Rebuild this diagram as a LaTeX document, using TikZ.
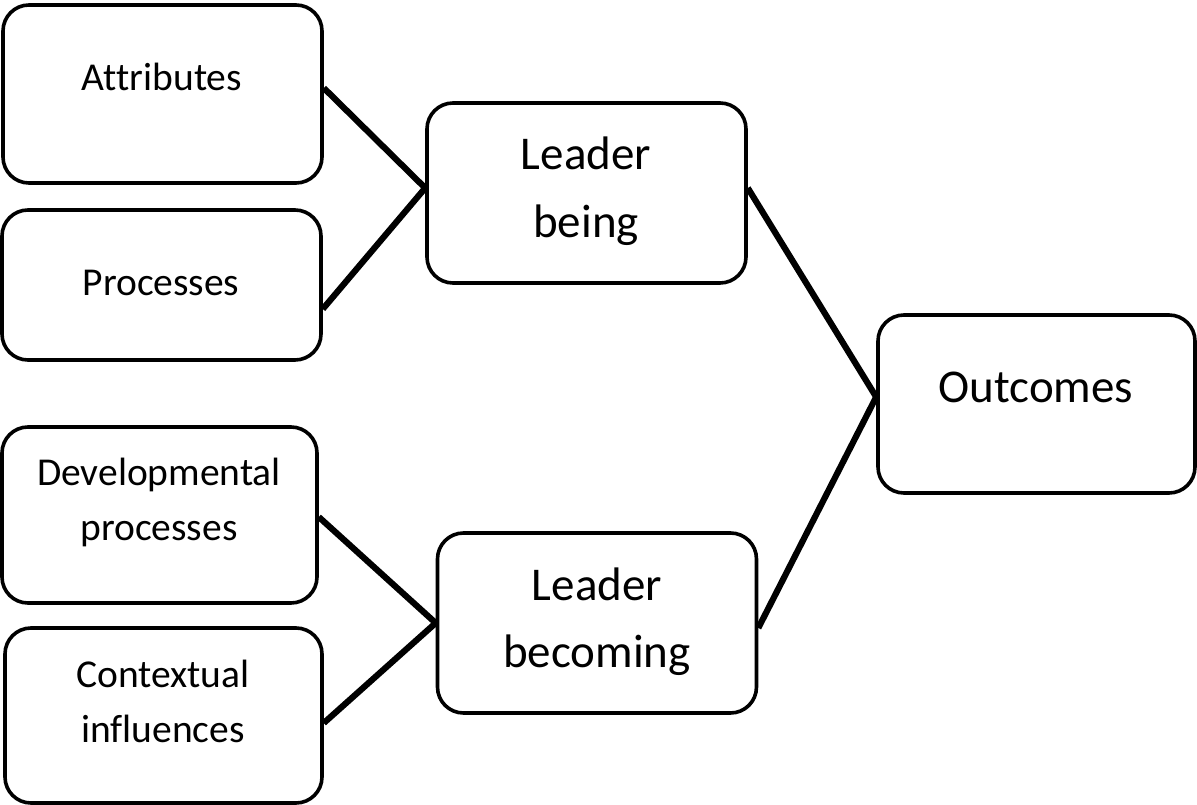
\documentclass[tikz,border=0pt]{standalone}
\usepackage{fontspec}
\setmainfont{Carlito}[Ligatures={NoCommon}]
\begin{document}
\begin{tikzpicture}[x=1pt,y=-1pt,
  box/.style={draw=black, line width=3.6pt, rounded corners=26pt, inner sep=0pt},
  small/.style={font=\fontsize{39.5}{55}\selectfont, align=center, anchor=base, inner sep=0pt},
  big/.style={font=\fontsize{47}{67}\selectfont, align=center, anchor=base, inner sep=0pt},
  link/.style={line width=6.2pt}]
\useasboundingbox (0,0) rectangle (1197,805);
% boxes
\node[box, minimum width=319pt, minimum height=178pt] (attr) at (162.5,94) {};
\node[box, minimum width=319pt, minimum height=150pt] (proc) at (161.5,285) {};
\node[box, minimum width=315pt, minimum height=176pt] (dev) at (159.5,515) {};
\node[box, minimum width=317pt, minimum height=175pt] (ctx) at (163.5,715.5) {};
\node[box, minimum width=319pt, minimum height=180pt] (being) at (586.5,193) {};
\node[box, minimum width=319pt, minimum height=180pt] (becoming) at (597,623) {};
\node[box, minimum width=317pt, minimum height=178pt] (outcomes) at (1036.5,404) {};
% texts
\node[small] (attrT) at (162,91) {Attributes};
\node[small] (procT) at (161,295) {Processes};
\node[small] (devT) at (159,540) {Developmental\\processes};
\node[small] (ctxT) at (163,742) {Contextual\\influences};
\node[big] (beingT) at (586,237) {Leader\\being};
\node[big] (becomingT) at (597,667) {Leader\\becoming};
\node[big] (outcomesT) at (1036,402) {Outcomes};
% connectors
\draw[link] ([yshift=6pt]attr.east) -- ([yshift=5pt]being.west);
\draw[link] ([yshift=-24pt]proc.east) -- ([yshift=5pt]being.west);
\draw[link] ([yshift=-2pt]dev.east) -- (becoming.west);
\draw[link] ([yshift=-7.5pt]ctx.east) -- (becoming.west);
\draw[link] ([yshift=5pt]being.east) -- ([yshift=7pt]outcomes.west);
\draw[link] ([yshift=-5pt]becoming.east) -- ([yshift=7pt]outcomes.west);
\end{tikzpicture}
\end{document}
